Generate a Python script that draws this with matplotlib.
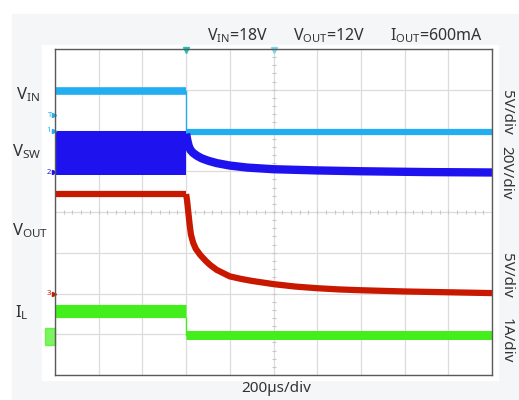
import numpy as np
import matplotlib.pyplot as plt
from matplotlib.patches import Rectangle

plt.rcParams['font.family'] = ['Noto Sans', 'DejaVu Sans']
plt.rcParams['mathtext.fontset'] = 'custom'
plt.rcParams['mathtext.rm'] = 'Noto Sans'

# scope screen in divisions: 10 x 8, time 200us/div, load step at 3 div
t_step = 3.0
t_end = 10.0

vin_before = 6.98
vin_after = 5.96

vsw_low = 4.91
vsw_high = 5.99
vsw_t = [3.0, 3.03, 3.06, 3.1, 3.16, 3.25, 3.35, 3.5, 3.7, 4.0, 4.4, 5.0, 6.0, 7.0, 8.5, 10.0]
vsw_v = [5.92, 5.75, 5.62, 5.52, 5.45, 5.38, 5.32, 5.26, 5.20, 5.14, 5.09, 5.05, 5.02, 5.00, 4.98, 4.97]

vout_before = 4.44
vout_t = [3.0, 3.02, 3.05, 3.08, 3.11, 3.16, 3.22, 3.32, 3.45, 3.55, 3.7, 3.85, 4.0, 4.25,
          4.5, 5.0, 5.5, 6.0, 6.5, 7.0, 8.0, 9.0, 10.0]
vout_v = [4.44, 4.30, 4.00, 3.70, 3.45, 3.25, 3.10, 2.95, 2.80, 2.70, 2.58, 2.50, 2.42, 2.36,
          2.31, 2.23, 2.17, 2.13, 2.10, 2.08, 2.05, 2.03, 2.01]

il_before = 1.56
il_after = 0.99

ch_labels = ['$\\mathrm{V_{IN}}$', '$\\mathrm{V_{SW}}$', '$\\mathrm{V_{OUT}}$', '$\\mathrm{I_{L}}$']
scale_labels = ['5V/div', '20V/div', '5V/div', '1A/div']

c_vin = '#22aef0'
c_sw = '#1e12ee'
c_out = '#c81800'
c_il = '#44ee1c'

W, H = 519, 400
fig = plt.figure(figsize=(W / 100, H / 100), dpi=100)
fig.patch.set_facecolor('white')
fig.patches.append(Rectangle((12 / W, 0), 1, 1 - 14 / H, transform=fig.transFigure,
                             color='#f5f6f8', zorder=-2))
fig.patches.append(Rectangle((42 / W, 1 - 380 / H), 456 / W, 335 / H, transform=fig.transFigure,
                             color='white', zorder=-1))

ax = fig.add_axes([55 / W, 1 - 375 / H, 437 / W, 326 / H])
ax.set_xlim(0, t_end)
ax.set_ylim(0, 8)
ax.set_xticks(np.arange(0, 11))
ax.set_yticks(np.arange(0, 9))
ax.tick_params(length=0, labelbottom=False, labelleft=False)
ax.set_axisbelow(True)
ax.grid(True, color='#dcdcdc', lw=0.9)
for s in ax.spines.values():
    s.set_color('#5a5a5a')
    s.set_linewidth(1.0)

# little ticks on the centre lines
ax.plot(np.arange(0.2, 10, 0.2), [4] * 49, ls='none', marker='|', ms=3, color='#c8c8c8', mew=0.8, zorder=1)
ax.plot([5] * 39, np.arange(0.2, 8, 0.2), ls='none', marker='_', ms=3, color='#c8c8c8', mew=0.8, zorder=1)

# VIN
ax.plot([0, t_step], [vin_before, vin_before], color=c_vin, lw=5.5, solid_capstyle='butt')
ax.plot([t_step, t_step], [vin_before, vin_after], color=c_vin, lw=1.0)
ax.plot([t_step, t_end], [vin_after, vin_after], color=c_vin, lw=4.5, solid_capstyle='butt')

# VSW
ax.fill_between([0, t_step], vsw_low, vsw_high, color=c_sw, lw=0, zorder=2)
ax.plot(vsw_t, vsw_v, color=c_sw, lw=6.0, solid_capstyle='butt')

# VOUT
ax.plot([0, t_step], [vout_before, vout_before], color=c_out, lw=4.5, solid_capstyle='butt')
ax.plot(vout_t, vout_v, color=c_out, lw=4.5, solid_capstyle='butt', solid_joinstyle='round')

# IL
ax.plot([0, t_step], [il_before, il_before], color=c_il, lw=9.5, solid_capstyle='butt')
ax.plot([t_step, t_step], [il_before - 0.15, il_after], color=c_il, lw=1.0)
ax.plot([t_step, t_end], [il_after, il_after], color=c_il, lw=6.5, solid_capstyle='butt')

# trigger markers
ax.plot([t_step], [7.97], marker='v', ms=5, color='#1fc4b0', clip_on=False)
ax.plot([5.0], [7.97], marker='v', ms=5, color='#7fd8e8', clip_on=False)

# channel markers on the left edge
mk = dict(fontsize=5.5, ha='right', va='center', clip_on=False)
ax.text(-0.06, 6.38, 'T', color=c_vin, **mk)
ax.plot([-0.03], [6.38], marker='>', ms=3, color=c_vin, clip_on=False)
ax.text(-0.1, 5.99, '1', color=c_vin, **mk)
ax.plot([-0.03], [5.99], marker='>', ms=3, color=c_vin, clip_on=False)
ax.text(-0.1, 4.98, '2', color=c_sw, **mk)
ax.plot([-0.03], [4.98], marker='>', ms=3, color=c_sw, clip_on=False)
ax.text(-0.1, 2.0, '3', color=c_out, **mk)
ax.plot([-0.03], [2.0], marker='>', ms=3, color=c_out, clip_on=False)
ax.add_patch(Rectangle((-0.23, 0.73), 0.23, 0.42, color=c_il, alpha=0.7, clip_on=False))

# text
txt = '#333333'
fig.text(207 / W, 1 - 36 / H, '$\\mathrm{V_{IN}}$=18V', fontsize=11.5, color=txt, va='center')
fig.text(293 / W, 1 - 36 / H, '$\\mathrm{V_{OUT}}$=12V', fontsize=11.5, color=txt, va='center')
fig.text(390 / W, 1 - 36 / H, '$\\mathrm{I_{OUT}}$=600mA', fontsize=11.5, color=txt, va='center')

left_x = [16, 12, 12, 15]
left_y = [95, 152, 231, 313]
for lab, x, y in zip(ch_labels, left_x, left_y):
    fig.text(x / W, 1 - y / H, lab, fontsize=12, color=txt, va='center')

right_y = [112, 173, 275, 341]
for lab, y in zip(scale_labels, right_y):
    fig.text(506 / W, 1 - y / H, lab, fontsize=11, color=txt, va='center', ha='center', rotation=-90)

fig.text(276 / W, 1 - 389 / H, '200µs/div', fontsize=11, color=txt, va='center', ha='center')

fig.savefig('out.png', dpi=100, facecolor=fig.get_facecolor())
